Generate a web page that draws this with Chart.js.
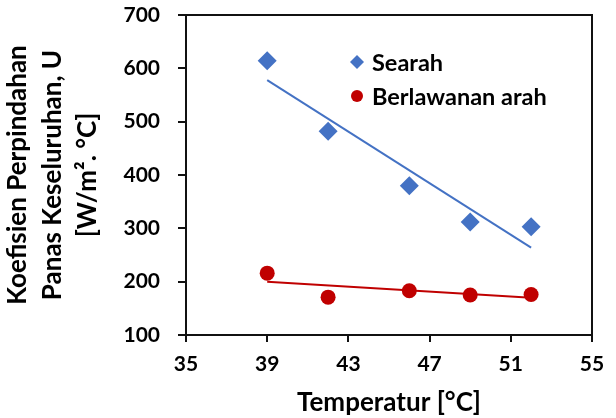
<!DOCTYPE html>
<html>
<head>
<meta charset="utf-8">
<script src="https://cdn.jsdelivr.net/npm/chart.js@4.4.0/dist/chart.umd.min.js"></script>
<style>
  html, body { margin: 0; padding: 0; background: #fff; }
  #wrap { width: 616px; height: 418px; }
</style>
</head>
<body>
<div id="wrap"><canvas id="chart" width="616" height="418"></canvas></div>
<script>
// Data
const temperatures = [39, 42, 46, 49, 52];
const searahU = [614, 482, 380, 312, 303];
const berlawananU = [216, 171, 183, 175, 176];

// Trend line end points (as drawn in the picture)
const trendX = [39, 52];
const searahTrend = [578, 264];
const berlawananTrend = [200, 170];

const xTicks = [35, 39, 43, 47, 51, 55];
const yTicks = [100, 200, 300, 400, 500, 600, 700];
const seriesNames = ["Searah", "Berlawanan arah"];

const BLUE = "#4472C4";
const RED = "#C00000";
const AXIS = "#111111";
const FONT = "Lato";

const toPoints = (xs, ys) => xs.map((x, i) => ({ x: x, y: ys[i] }));

// top and right edge of the box + legend inside the plot area
const boxPlugin = {
    id: "boxAndLegend",
    afterDraw(chart) {
        const ctx = chart.ctx;
        const a = chart.chartArea;
        ctx.save();
        ctx.fillStyle = AXIS;
        ctx.fillRect(Math.round(a.left) - 1, Math.round(a.top) - 1, Math.round(a.right - a.left) + 2, 2);
        ctx.fillRect(Math.round(a.right) - 1, Math.round(a.top) - 1, 2, Math.round(a.bottom - a.top) + 2);

        const items = chart.data.datasets.filter(d => d.type === "scatter");
        const lx = a.left + 171;
        let ly = a.top + 47;
        ctx.font = "bold 23.5px " + FONT;
        ctx.textBaseline = "middle";
        ctx.textAlign = "left";
        items.forEach(d => {
            ctx.fillStyle = d.backgroundColor;
            Chart.helpers.drawPoint(ctx, {
                pointStyle: d.pointStyle,
                radius: d.pointStyle === "rectRot" ? 7 : 6,
                borderWidth: 0
            }, lx, ly);
            ctx.fillStyle = "#000";
            ctx.fillText(d.label, lx + 15, ly + 1);
            ly += 34;
        });
        ctx.restore();
    }
};

new Chart(document.getElementById("chart"), {
    data: {
        datasets: [
            {
                type: "scatter",
                label: seriesNames[0],
                data: toPoints(temperatures, searahU),
                pointStyle: "rectRot",
                pointRadius: 9.5,
                backgroundColor: BLUE,
                borderColor: BLUE,
                borderWidth: 0
            },
            {
                type: "scatter",
                label: seriesNames[1],
                data: toPoints(temperatures, berlawananU),
                pointStyle: "circle",
                pointRadius: 7.5,
                backgroundColor: RED,
                borderColor: RED,
                borderWidth: 0
            },
            {
                type: "line",
                label: "trend searah",
                data: toPoints(trendX, searahTrend),
                borderColor: BLUE,
                borderWidth: 2,
                pointRadius: 0,
                fill: false
            },
            {
                type: "line",
                label: "trend berlawanan",
                data: toPoints(trendX, berlawananTrend),
                borderColor: RED,
                borderWidth: 2,
                pointRadius: 0,
                fill: false
            }
        ]
    },
    options: {
        responsive: false,
        animation: false,
        layout: { padding: { left: 0, right: 24, top: 15, bottom: 0 } },
        plugins: {
            legend: { display: false },
            tooltip: { enabled: false }
        },
        scales: {
            x: {
                type: "linear",
                min: 35,
                max: 55,
                afterBuildTicks: s => { s.ticks = xTicks.map(v => ({ value: v })); },
                afterFit: s => { s.height = 83; s.paddingLeft = 0; s.paddingRight = 0; },
                grid: { drawOnChartArea: false, drawTicks: true, tickLength: 7, color: AXIS, lineWidth: 2 },
                border: { color: AXIS, width: 2 },
                ticks: { color: "#000", padding: 10, font: { family: FONT, size: 21, weight: "bold" } },
                title: {
                    display: true,
                    text: "Temperatur [°C]",
                    color: "#000",
                    padding: { top: 2, bottom: 0 },
                    font: { family: FONT, size: 26, weight: "bold" }
                }
            },
            y: {
                min: 100,
                max: 700,
                afterBuildTicks: s => { s.ticks = yTicks.map(v => ({ value: v })); },
                afterFit: s => { s.width = 186; s.paddingTop = 0; s.paddingBottom = 0; },
                grid: { drawOnChartArea: false, drawTicks: true, tickLength: 8, color: AXIS, lineWidth: 2 },
                border: { color: AXIS, width: 2 },
                ticks: { color: "#000", padding: 18, font: { family: FONT, size: 21, weight: "bold" } },
                title: {
                    display: true,
                    text: ["Koefisien Perpindahan", "Panas Keseluruhan, U", "[W/m². °C]"],
                    color: "#000",
                    padding: { top: 0, bottom: 0 },
                    font: { family: FONT, size: 26, weight: "bold", lineHeight: 1.35 }
                }
            }
        }
    },
    plugins: [boxPlugin]
});
</script>
</body>
</html>
